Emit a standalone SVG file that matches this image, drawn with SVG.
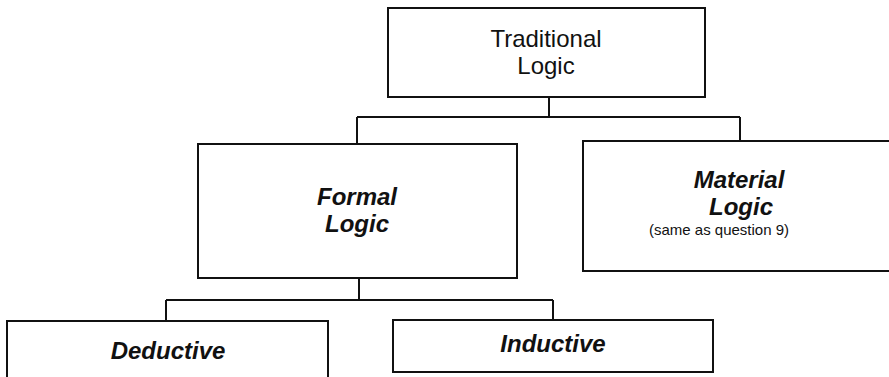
<svg xmlns="http://www.w3.org/2000/svg" width="889" height="377" viewBox="0 0 889 377">
  <style>
    .box { fill: #ffffff; stroke: #111111; stroke-width: 2; }
    .link { fill: none; stroke: #111111; stroke-width: 2; }
    .t { font-family: "Liberation Sans", Arial, sans-serif; fill: #111111; text-anchor: middle; }
    .reg { font-size: 24px; }
    .bi { font-size: 24px; font-weight: bold; font-style: italic; }
    .small { font-size: 15px; }
  </style>
  <rect width="889" height="377" fill="#ffffff"/>

  <g id="connectors">
    <!-- Traditional Logic to its two branches -->
    <path class="link" d="M549 97 V117 M357 117 H740 M357 117 V144 M740 117 V141"/>
    <!-- Formal Logic to its two branches -->
    <path class="link" d="M359 278 V300 M166 300 H553 M166 300 V321 M553 300 V320"/>
  </g>

  <g id="traditional-logic">
    <rect class="box" x="388" y="8" width="317" height="89"/>
    <text class="t reg" x="546" y="47">Traditional</text>
    <text class="t reg" x="546" y="74">Logic</text>
  </g>

  <g id="formal-logic">
    <rect class="box" x="198" y="144" width="319" height="134"/>
    <text class="t bi" x="357" y="205">Formal</text>
    <text class="t bi" x="357" y="232">Logic</text>
  </g>

  <g id="material-logic">
    <rect class="box" x="583" y="141" width="320" height="130"/>
    <text class="t bi" x="739" y="188">Material</text>
    <text class="t bi" x="741" y="215">Logic</text>
    <text class="t small" x="719" y="235">(same as question 9)</text>
  </g>

  <g id="deductive">
    <rect class="box" x="7" y="321" width="321" height="60"/>
    <text class="t bi" x="168" y="359">Deductive</text>
  </g>

  <g id="inductive">
    <rect class="box" x="393" y="320" width="320" height="52"/>
    <text class="t bi" x="553" y="352">Inductive</text>
  </g>
</svg>
